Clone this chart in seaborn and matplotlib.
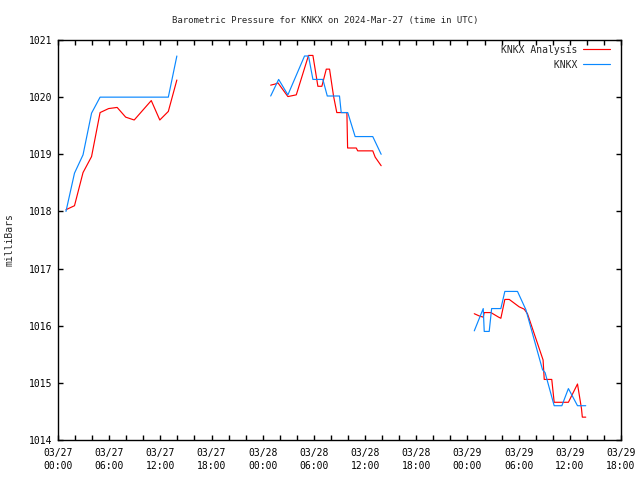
import matplotlib
matplotlib.use("Agg")
import matplotlib.pyplot as plt
import matplotlib.dates as mdates
import numpy as np
import pandas as pd
import seaborn as sns

# ---------------- data ----------------
title = "Barometric Pressure for KNKX on 2024-Mar-27 (time in UTC)"
ylabel = "milliBars"
series_names = ["KNKX Analysis", "KNKX"]

# KNKX observations
obs_day1_times = ["2024-03-27 00:56", "2024-03-27 01:56", "2024-03-27 02:56", "2024-03-27 03:56",
                  "2024-03-27 04:56", "2024-03-27 05:56", "2024-03-27 06:56", "2024-03-27 07:56",
                  "2024-03-27 08:56", "2024-03-27 09:56", "2024-03-27 10:56", "2024-03-27 11:56",
                  "2024-03-27 12:56", "2024-03-27 13:56"]
obs_day1_values = [1018.00, 1018.67, 1018.99, 1019.72, 1020.00, 1020.00, 1020.00, 1020.00,
                   1020.00, 1020.00, 1020.00, 1020.00, 1020.00, 1020.72]

obs_day2_times = ["2024-03-28 00:56", "2024-03-28 01:52", "2024-03-28 02:57", "2024-03-28 04:54",
                  "2024-03-28 05:22", "2024-03-28 05:53", "2024-03-28 07:03", "2024-03-28 07:34",
                  "2024-03-28 09:00", "2024-03-28 09:12", "2024-03-28 09:58", "2024-03-28 10:50",
                  "2024-03-28 12:54", "2024-03-28 13:53"]
obs_day2_values = [1020.02, 1020.31, 1020.04, 1020.72, 1020.72, 1020.31, 1020.31, 1020.02,
                   1020.02, 1019.73, 1019.73, 1019.31, 1019.31, 1019.00]

obs_day3_times = ["2024-03-29 00:48", "2024-03-29 01:51", "2024-03-29 01:58", "2024-03-29 02:33",
                  "2024-03-29 02:50", "2024-03-29 03:55", "2024-03-29 04:23", "2024-03-29 05:52",
                  "2024-03-29 06:51", "2024-03-29 08:48", "2024-03-29 09:06", "2024-03-29 10:10",
                  "2024-03-29 11:04", "2024-03-29 11:50", "2024-03-29 12:54", "2024-03-29 13:52"]
obs_day3_values = [1015.91, 1016.30, 1015.90, 1015.90, 1016.30, 1016.30, 1016.60, 1016.60,
                   1016.28, 1015.23, 1015.18, 1014.60, 1014.60, 1014.90, 1014.60, 1014.60]

# KNKX Analysis
ana_day1_times = obs_day1_times
ana_day1_values = [1018.03, 1018.10, 1018.68, 1018.96, 1019.73, 1019.80, 1019.82, 1019.65,
                   1019.60, 1019.77, 1019.94, 1019.60, 1019.75, 1020.30]

ana_day2_times = ["2024-03-28 00:56", "2024-03-28 01:29", "2024-03-28 01:47", "2024-03-28 02:57",
                  "2024-03-28 03:56", "2024-03-28 05:22", "2024-03-28 05:53", "2024-03-28 06:28",
                  "2024-03-28 06:56", "2024-03-28 07:27", "2024-03-28 07:50", "2024-03-28 08:18",
                  "2024-03-28 08:41", "2024-03-28 09:52", "2024-03-28 09:57", "2024-03-28 10:58",
                  "2024-03-28 11:08", "2024-03-28 12:54", "2024-03-28 13:11", "2024-03-28 13:53"]
ana_day2_values = [1020.21, 1020.23, 1020.25, 1020.01, 1020.04, 1020.73, 1020.73, 1020.19,
                   1020.19, 1020.49, 1020.49, 1020.02, 1019.73, 1019.73, 1019.11, 1019.11,
                   1019.06, 1019.06, 1018.95, 1018.80]

ana_day3_times = ["2024-03-29 00:48", "2024-03-29 01:24", "2024-03-29 01:51", "2024-03-29 01:58",
                  "2024-03-29 02:45", "2024-03-29 03:39", "2024-03-29 03:55", "2024-03-29 04:23",
                  "2024-03-29 04:54", "2024-03-29 06:04", "2024-03-29 06:39", "2024-03-29 07:02",
                  "2024-03-29 08:52", "2024-03-29 09:00", "2024-03-29 09:53", "2024-03-29 10:10",
                  "2024-03-29 11:50", "2024-03-29 12:54", "2024-03-29 13:22", "2024-03-29 13:28",
                  "2024-03-29 13:52"]
ana_day3_values = [1016.21, 1016.17, 1016.15, 1016.23, 1016.23, 1016.15, 1016.13, 1016.46,
                   1016.46, 1016.33, 1016.29, 1016.21, 1015.40, 1015.06, 1015.06, 1014.66,
                   1014.66, 1014.98, 1014.55, 1014.40, 1014.40]

x_start = "2024-03-27 00:00"
x_end = "2024-03-29 18:00"
y_min, y_max = 1014, 1021

# ---------------- build long table ----------------
frames = []
for name, seg, t, v in [
    ("KNKX Analysis", 1, ana_day1_times, ana_day1_values),
    ("KNKX Analysis", 2, ana_day2_times, ana_day2_values),
    ("KNKX Analysis", 3, ana_day3_times, ana_day3_values),
    ("KNKX", 1, obs_day1_times, obs_day1_values),
    ("KNKX", 2, obs_day2_times, obs_day2_values),
    ("KNKX", 3, obs_day3_times, obs_day3_values),
]:
    frames.append(pd.DataFrame({"time": pd.to_datetime(t), "pressure": v,
                                "series": name, "segment": seg}))
df = pd.concat(frames, ignore_index=True)

# ---------------- style ----------------
sns.set_style("ticks")
plt.rcParams["font.family"] = ["DejaVu Sans Mono", "DejaVu Sans"]
plt.rcParams["axes.edgecolor"] = "black"
plt.rcParams["axes.linewidth"] = 1.0

fig = plt.figure(figsize=(6.4, 4.8), dpi=100)
ax = fig.add_axes([58 / 640, 1 - 440 / 480, (621 - 58) / 640, 400 / 480])

palette = {"KNKX Analysis": "#ff0000", "KNKX": "#0a88ff"}
sns.lineplot(data=df, x="time", y="pressure", hue="series", units="segment",
             estimator=None, sort=False, hue_order=series_names, palette=palette,
             linewidth=0.85, ax=ax, legend=True)

ax.set_xlim(pd.Timestamp(x_start), pd.Timestamp(x_end))
ax.set_ylim(y_min, y_max)
ax.xaxis.set_major_locator(mdates.HourLocator(byhour=range(0, 24, 6)))
ax.xaxis.set_minor_locator(mdates.HourLocator(byhour=range(0, 24, 2)))
ax.xaxis.set_major_formatter(mdates.DateFormatter("%m/%d\n%H:%M"))
ax.yaxis.set_major_locator(matplotlib.ticker.MultipleLocator(1))
ax.yaxis.set_major_formatter(matplotlib.ticker.FormatStrFormatter("%d"))

ax.tick_params(which="both", direction="in", top=True, right=True,
               length=3.5, width=1.0, color="black", labelsize=7, labelcolor="black")
ax.tick_params(axis="x", which="major", pad=6)
ax.tick_params(axis="y", which="major", pad=4)
for lab in ax.get_xticklabels():
    lab.set_linespacing(1.35)

ax.set_xlabel("")
ax.set_ylabel(ylabel, fontsize=7)
ax.yaxis.set_label_coords((15 - 58) / 563, 0.5)

fig.text(325 / 640, 1 - 20 / 480, title, ha="center", va="center", fontsize=6.5)

handles, labels = ax.get_legend_handles_labels()
width = max(len(l) for l in labels)
ax.legend(handles, [l.rjust(width) for l in labels], loc="upper right",
          bbox_to_anchor=(1 - 6 / 563, 1), frameon=False, fontsize=7,
          markerfirst=False, handlelength=2.8, handletextpad=0.6,
          labelspacing=0.5, borderaxespad=0.3, borderpad=0.2)

fig.savefig("out.png", dpi=100)
